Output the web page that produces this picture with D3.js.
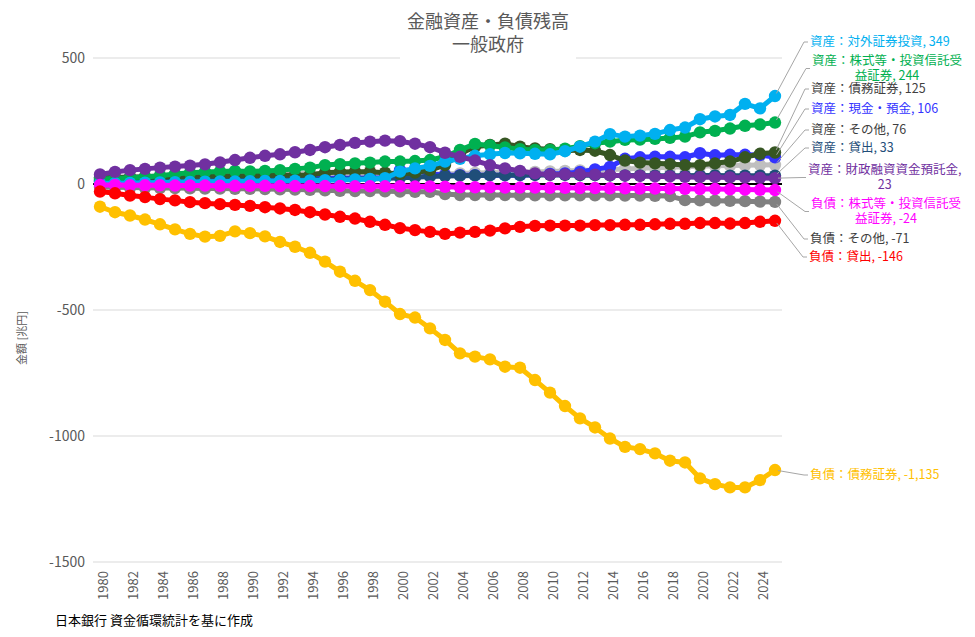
<!DOCTYPE html>
<html lang="ja">
<head>
<meta charset="UTF-8">
<title>金融資産・負債残高 一般政府</title>
<script src="https://d3js.org/d3.v7.min.js"></script>
<style>
  body { margin: 0; background: white; }
  svg { display: block; font-family: "Noto Sans CJK JP", "Noto Sans", sans-serif; }
  .grid line { stroke: #d9d9d9; stroke-width: 1; }
  .axis text { fill: #595959; }
  .leader { fill: none; stroke: #a6a6a6; stroke-width: 1; }
</style>
</head>
<body>
<svg id="chart" width="975" height="637"></svg>
<script>
// ---- data (兆円) ----
const years = d3.range(1980, 2026);
const yTicks = [500, 0, -500, -1000, -1500];
const xTickYears = d3.range(1980, 2026, 2);

const seriesNames = [
  "資産：その他", "資産：現金・預金", "資産：貸出", "資産：債務証券",
  "資産：株式等・投資信託受益証券", "資産：対外証券投資", "資産：財政融資資金預託金",
  "負債：その他", "負債：株式等・投資信託受益証券", "負債：貸出", "負債：債務証券"
];

const assetOther = [25, 27, 29, 31, 33, 35, 37, 40, 45, 48,
  45, 43, 42, 42, 42, 42, 42, 42, 42, 42,
  40, 40, 40, 40, 42, 44, 45, 46, 47, 48,
  50, 52, 54, 56, 58, 60, 62, 64, 66, 68,
  70, 72, 73, 74, 75, 76];
const assetCash = [15, 15, 16, 16, 17, 17, 18, 18, 19, 19,
  20, 20, 21, 21, 22, 22, 23, 23, 24, 25,
  55, 55, 40, 36, 35, 35, 35, 35, 35, 37,
  40, 42, 48, 58, 68, 100, 106, 108, 108, 106,
  122, 114, 116, 116, 115, 106];
const assetLoans = [10, 10, 11, 11, 12, 12, 13, 13, 14, 14,
  15, 15, 16, 16, 17, 18, 19, 20, 21, 22,
  25, 27, 30, 32, 33, 34, 35, 35, 36, 36,
  36, 36, 35, 35, 34, 34, 34, 33, 33, 33,
  34, 34, 33, 33, 33, 33];
const assetDebtSec = [25, 26, 27, 28, 29, 30, 31, 32, 33, 33,
  34, 34, 35, 35, 36, 45, 48, 49, 49, 45,
  40, 45, 55, 75, 120, 148, 155, 160, 148, 141,
  138, 132, 135, 132, 115, 93, 85, 82, 79, 75,
  75, 82, 89, 106, 120, 125];
const assetEquity = [20, 22, 25, 28, 33, 40, 45, 48, 50, 52,
  50, 52, 55, 60, 65, 75, 79, 82, 85, 89,
  89, 91, 95, 108, 135, 159, 153, 145, 138, 135,
  135, 140, 150, 162, 168, 175, 176, 179, 183, 188,
  205, 211, 220, 231, 236, 244];
const assetForeign = [2, 3, 4, 5, 6, 7, 8, 9, 10, 10,
  11, 12, 12, 13, 14, 15, 16, 18, 20, 23,
  49, 62, 72, 89, 100, 112, 118, 123, 122, 120,
  118, 130, 148, 168, 198, 188, 192, 199, 214, 224,
  257, 268, 274, 318, 300, 349];
const assetFiloan = [38, 48, 55, 60, 65, 69, 73, 78, 86, 95,
  104, 112, 118, 126, 135, 146, 155, 163, 168, 172,
  170, 160, 146, 124, 108, 93, 75, 62, 52, 42,
  37, 38, 38, 37, 35, 33, 32, 30, 30, 28,
  27, 27, 26, 25, 24, 23];
const liabOther = [-12, -13, -14, -15, -16, -16, -17, -18, -18, -19,
  -19, -20, -21, -22, -23, -25, -27, -28, -28, -29,
  -30, -31, -31, -40, -44, -44, -44, -44, -45, -45,
  -45, -45, -45, -45, -45, -46, -46, -47, -48, -64,
  -65, -66, -67, -68, -70, -71];
const liabEquity = [-4, -4, -5, -5, -5, -6, -6, -6, -7, -7,
  -7, -7, -8, -8, -8, -8, -8, -9, -9, -9,
  -9, -10, -10, -11, -13, -13, -13, -14, -14, -14,
  -15, -15, -16, -16, -17, -17, -18, -18, -18, -19,
  -20, -20, -21, -22, -23, -24];
const liabLoans = [-30, -37, -46, -52, -60, -65, -72, -76, -80, -83,
  -87, -92, -97, -103, -112, -121, -130, -137, -150, -162,
  -175, -183, -190, -198, -193, -190, -185, -176, -170, -166,
  -165, -165, -165, -163, -163, -162, -162, -160, -158, -158,
  -155, -155, -157, -155, -150, -146];
const liabDebtSec = [-90, -112, -125, -141, -160, -180, -198, -209, -206, -188,
  -195, -208, -230, -249, -273, -308, -348, -384, -421, -467,
  -516, -530, -573, -619, -672, -685, -696, -725, -729, -778,
  -828, -881, -930, -966, -1010, -1043, -1052, -1069, -1098, -1105,
  -1168, -1191, -1204, -1204, -1175, -1135];

const seriesValues = [assetOther, assetCash, assetLoans, assetDebtSec, assetEquity,
  assetForeign, assetFiloan, liabOther, liabEquity, liabLoans, liabDebtSec];

// data label text, one entry per line
const labelLines = [
  ["資産：その他, 76"],
  ["資産：現金・預金, 106"],
  ["資産：貸出, 33"],
  ["資産：債務証券, 125"],
  ["資産：株式等・投資信託受", "益証券, 244"],
  ["資産：対外証券投資, 349"],
  ["資産：財政融資資金預託金,", "23"],
  ["負債：その他, -71"],
  ["負債：株式等・投資信託受", "益証券, -24"],
  ["負債：貸出, -146"],
  ["負債：債務証券, -1,135"]
];

// ---- styles / layout ----
const lineColors = ["#bfbfbf", "#3333ff", "#1f4e79", "#375623", "#00b050",
  "#00b0f0", "#7030a0", "#808080", "#ff00ff", "#ff0000", "#ffc000"];
const textColors = ["#404040", "#3333ff", "#1f4e79", "#404040", "#00b050",
  "#00b0f0", "#7030a0", "#404040", "#ff00ff", "#ff0000", "#ffc000"];
// label block left (x) and first-line centre (y)
const labelPos = [
  [811, 130], [811, 109], [811, 148], [811, 89], [812, 61],
  [810, 42], [808, 170], [810, 239], [811, 204], [809, 257], [810, 475]
];

const margin = { left: 93, right: 782 };
const svg = d3.select("#chart");

const x = d3.scaleLinear().domain([1980, 2025]).range([100, 775]);
const y = d3.scaleLinear().domain([-1500, 500]).range([562, 58]);

// gridlines
svg.append("g").attr("class", "grid")
  .selectAll("line").data(yTicks.filter(d => d !== 0)).join("line")
  .attr("x1", margin.left).attr("x2", margin.right)
  .attr("y1", d => y(d)).attr("y2", d => y(d));

// zero line
svg.append("line")
  .attr("x1", margin.left).attr("x2", margin.right)
  .attr("y1", y(0)).attr("y2", y(0))
  .attr("stroke", "#000").attr("stroke-width", 2);

// y tick labels
svg.append("g").attr("class", "axis")
  .selectAll("text").data(yTicks).join("text")
  .attr("x", 85).attr("y", d => y(d)).attr("dy", "0.35em")
  .attr("text-anchor", "end").style("font-size", "14px")
  .text(d => d);

// x tick labels
svg.append("g").attr("class", "axis")
  .selectAll("text").data(xTickYears).join("text")
  .attr("transform", d => `translate(${x(d)},571) rotate(-90)`)
  .attr("dy", "0.6em")
  .attr("text-anchor", "end").style("font-size", "13px")
  .text(d => d);

// series
const line = d3.line().x((d, i) => x(years[i])).y(d => y(d));
seriesValues.forEach((vals, k) => {
  const g = svg.append("g");
  g.append("path").datum(vals)
    .attr("d", line)
    .attr("fill", "none")
    .attr("stroke", lineColors[k])
    .attr("stroke-width", 5)
    .attr("stroke-linejoin", "round");
  g.selectAll("circle").data(vals).join("circle")
    .attr("cx", (d, i) => x(years[i]))
    .attr("cy", d => y(d))
    .attr("r", 6.2)
    .attr("fill", lineColors[k]);
});

// data labels with leader lines
const lastX = x(years[years.length - 1]);
const labels = svg.append("g");
const lineGap = 15;
seriesValues.forEach((vals, k) => {
  const [lx, ly] = labelPos[k];
  const lines = labelLines[k];
  const t = labels.append("text")
    .style("font-size", "12.5px")
    .attr("fill", textColors[k]);
  lines.forEach((s, j) => {
    t.append("tspan").attr("y", ly + j * lineGap).attr("dy", "0.35em").text(s);
  });
  const widths = [];
  t.selectAll("tspan").each(function () { widths.push(this.getComputedTextLength()); });
  const w = d3.max(widths);
  t.attr("text-anchor", "middle");
  t.selectAll("tspan").attr("x", lx + w / 2);

  const py = y(vals[vals.length - 1]);
  const cy = ly + (lines.length - 1) * lineGap / 2;
  const dx = (lx - 6) - lastX, dy = cy - py;
  const len = Math.hypot(dx, dy);
  labels.append("path").attr("class", "leader")
    .attr("d", `M${lastX + dx / len * 3},${py + dy / len * 3}L${lx - 6},${cy}L${lx - 2},${cy}`);
});

// title with white backing
const title = svg.append("g");
title.append("rect").attr("x", 400).attr("y", 6).attr("width", 176).attr("height", 56).attr("fill", "#fff");
title.append("text").attr("x", 488).attr("y", 22).attr("dy", "0.35em")
  .attr("text-anchor", "middle").attr("fill", "#595959").style("font-size", "18px")
  .text("金融資産・負債残高");
title.append("text").attr("x", 488).attr("y", 45).attr("dy", "0.35em")
  .attr("text-anchor", "middle").attr("fill", "#595959").style("font-size", "18px")
  .text("一般政府");

// y axis title
svg.append("text")
  .attr("transform", "translate(22,338) rotate(-90)")
  .attr("dy", "0.35em").attr("text-anchor", "middle")
  .attr("fill", "#595959").style("font-size", "11px")
  .text("金額 [兆円]");

// source note
svg.append("text")
  .attr("x", 55).attr("y", 620).attr("dy", "0.35em")
  .attr("fill", "#000").style("font-size", "13px")
  .text("日本銀行 資金循環統計を基に作成");
</script>
</body>
</html>
